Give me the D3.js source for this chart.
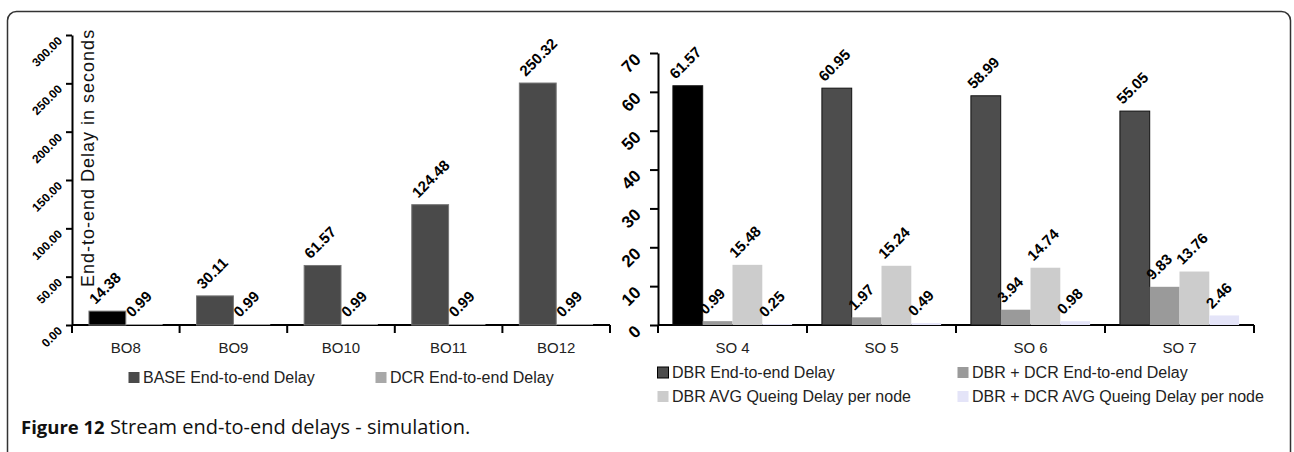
<!DOCTYPE html>
<html>
<head>
<meta charset="utf-8">
<script src="https://cdn.jsdelivr.net/npm/d3@7"></script>
<style>
  body { margin: 0; background: #fff; }
  svg { display: block; font-family: "Liberation Sans", Arial, sans-serif; }
  .axis path, .axis line { stroke: #000; stroke-width: 2; }
  .tick-lbl { font-weight: bold; fill: #000; }
  .val { font-size: 15px; font-weight: bold; fill: #000; }
  .cat { font-size: 15px; fill: #222; }
  .leg { font-size: 16px; fill: #222; }
</style>
</head>
<body>
<svg width="1294" height="452"></svg>
<script>
// left chart: beacon order
const boCategories = ['BO8', 'BO9', 'BO10', 'BO11', 'BO12'];
const boSeries = ['BASE End-to-end Delay', 'DCR End-to-end Delay'];
const baseDelay = [14.38, 30.11, 61.57, 124.48, 250.32];
const dcrDelay = [0.99, 0.99, 0.99, 0.99, 0.99];
const boTicks = [0, 50, 100, 150, 200, 250, 300];

// right chart: superframe order
const soCategories = ['SO 4', 'SO 5', 'SO 6', 'SO 7'];
const soSeries = ['DBR End-to-end Delay', 'DBR + DCR End-to-end Delay',
                  'DBR AVG Queing Delay per node', 'DBR + DCR AVG Queing Delay per node'];
const dbrDelay = [61.57, 60.95, 58.99, 55.05];
const dbrDcrDelay = [0.99, 1.97, 3.94, 9.83];
const dbrQueue = [15.48, 15.24, 14.74, 13.76];
const dbrDcrQueue = [0.25, 0.49, 0.98, 2.46];
const soTicks = [0, 10, 20, 30, 40, 50, 60, 70];

const svg = d3.select('svg');

// outer frame
svg.append('rect')
    .attr('x', 7.5).attr('y', 11.5)
    .attr('width', 1283).attr('height', 470)
    .attr('rx', 9)
    .attr('fill', 'none').attr('stroke', '#333').attr('stroke-width', 1.5);

function drawChart(cfg) {

    const g = svg.append('g');

    const x = d3.scaleBand().domain(cfg.categories).range([cfg.left, cfg.right]).padding(0);
    const xs = d3.scaleBand().domain(cfg.series).range([0, x.bandwidth()])
        .paddingInner(0).paddingOuter(cfg.groupPad);
    const y = d3.scaleLinear().domain([0, cfg.max]).range([cfg.bottom, cfg.top]);

    // y axis, labels tilted
    const ya = g.append('g').attr('class', 'axis')
        .attr('transform', `translate(${cfg.left},0)`)
        .call(d3.axisLeft(y).tickValues(cfg.ticks).tickSize(cfg.yTick).tickSizeOuter(0).tickFormat(cfg.fmt));
    ya.selectAll('.tick text').remove();
    ya.selectAll('.tick')
        .append('text')
        .attr('class', 'tick-lbl')
        .attr('font-size', cfg.yFont)
        .attr('text-anchor', 'end')
        .attr('transform', `translate(${cfg.yLblDx},${cfg.yLblDy}) rotate(-45)`)
        .text(d => cfg.fmt(d));

    // x axis line with ticks at the band boundaries
    g.append('line')
        .attr('x1', cfg.left).attr('x2', cfg.right)
        .attr('y1', y(0)).attr('y2', y(0))
        .attr('stroke', '#000').attr('stroke-width', 2);
    const last = cfg.categories[cfg.categories.length - 1];
    const bounds = cfg.categories.map(c => x(c)).concat([x(last) + x.step()]);
    g.selectAll('line.bnd')
        .data(bounds)
        .join('line')
        .classed('bnd', true)
        .attr('x1', d => d).attr('x2', d => d)
        .attr('y1', y(0)).attr('y2', y(0) + 8)
        .attr('stroke', '#000').attr('stroke-width', 2);

    // category labels
    g.selectAll('text.cat')
        .data(cfg.categories)
        .join('text')
        .attr('class', 'cat')
        .attr('x', d => x(d) + x.bandwidth() / 2)
        .attr('y', 353)
        .attr('text-anchor', 'middle')
        .text(d => d);

    // bars
    const rows = [];
    cfg.categories.forEach((c, i) => {
        cfg.series.forEach((s, j) => {
            rows.push({ c, s, j, i, v: cfg.values[j][i] });
        });
    });

    g.selectAll('rect.bar')
        .data(rows)
        .join('rect')
        .attr('class', 'bar')
        .attr('x', d => x(d.c) + xs(d.s))
        .attr('y', d => y(d.v))
        .attr('width', xs.bandwidth())
        .attr('height', d => y(0) - y(d.v))
        .attr('fill', d => (d.j === 0 && d.i === 0) ? '#000' : cfg.colors[d.j])
        .attr('stroke', d => d.j === 0 ? cfg.firstStroke : 'none')
        .attr('stroke-width', 1);

    // value labels, tilted
    g.selectAll('text.val')
        .data(rows)
        .join('text')
        .attr('class', 'val')
        .attr('transform', d => `translate(${x(d.c) + xs(d.s) + xs.bandwidth() / 2 - 12},${y(d.v) - 6}) rotate(-45)`)
        .text(d => d.v.toFixed(2));

    return { g, x, y };
}

// left chart
const left = drawChart({
    categories: boCategories,
    series: boSeries,
    values: [baseDelay, dcrDelay],
    colors: ['#4a4a4a', '#a8a8a8'],
    firstStroke: '#777',
    left: 72, right: 610, top: 35, bottom: 325,
    max: 300, ticks: boTicks, fmt: d3.format('.2f'),
    yTick: 6, yFont: 12, yLblDx: -9, yLblDy: 6,
    groupPad: 0.46
});

left.g.append('text')
    .attr('transform', 'translate(94,287) rotate(-90)')
    .attr('font-size', 18)
    .attr('letter-spacing', 1)
    .attr('fill', '#111')
    .text('End-to-end Delay in seconds');

// right chart
const right = drawChart({
    categories: soCategories,
    series: soSeries,
    values: [dbrDelay, dbrDcrDelay, dbrQueue, dbrDcrQueue],
    colors: ['#4d4d4d', '#9a9a9a', '#cccccc', '#e4e4f8'],
    firstStroke: '#111',
    left: 658, right: 1254, top: 53, bottom: 325,
    max: 70, ticks: soTicks, fmt: d3.format('d'),
    yTick: 8, yFont: 17, yLblDx: -16, yLblDy: 7,
    groupPad: 0.5
});

// legends
const leftLegend = [
    { label: boSeries[0], color: '#4a4a4a', stroke: 'none', x: 128, y: 383 },
    { label: boSeries[1], color: '#a8a8a8', stroke: 'none', x: 375, y: 383 }
];
const rightLegend = [
    { label: soSeries[0], color: '#4d4d4d', stroke: '#000', x: 657, y: 378 },
    { label: soSeries[1], color: '#9a9a9a', stroke: 'none', x: 957, y: 378 },
    { label: soSeries[2], color: '#cccccc', stroke: 'none', x: 657, y: 402 },
    { label: soSeries[3], color: '#e4e4f8', stroke: 'none', x: 957, y: 402 }
];

const lg = svg.append('g');
lg.selectAll('g.item')
    .data(leftLegend.concat(rightLegend))
    .join('g')
    .attr('class', 'item')
    .each(function(d) {
        const item = d3.select(this);
        item.append('rect')
            .attr('x', d.x + 0.5).attr('y', d.y - 11)
            .attr('width', 11).attr('height', 11)
            .attr('fill', d.color)
            .attr('stroke', d.stroke);
        item.append('text')
            .attr('class', 'leg')
            .attr('x', d.x + 15).attr('y', d.y)
            .text(d.label);
    });

// caption
const cap = svg.append('text')
    .attr('x', 21).attr('y', 434)
    .attr('font-family', '"Open Sans", "Noto Sans", sans-serif')
    .attr('fill', '#111');
cap.append('tspan').attr('font-weight', 'bold').attr('font-size', 18.5).text('Figure 12');
cap.append('tspan').attr('font-size', 20).text(' Stream end-to-end delays - simulation.');
</script>
</body>
</html>
